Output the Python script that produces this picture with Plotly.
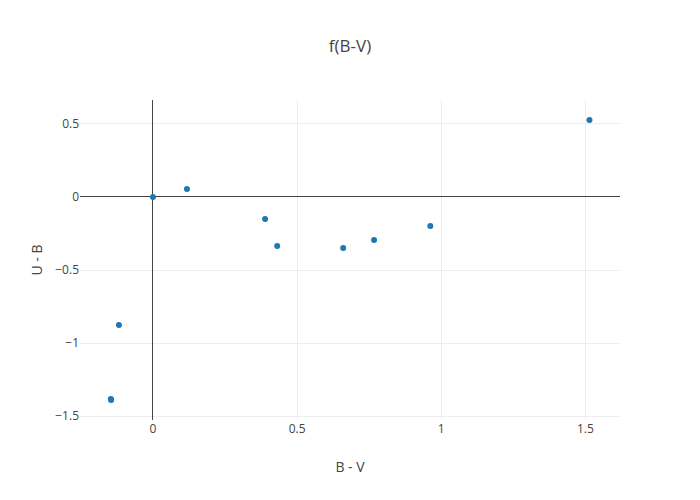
import plotly.graph_objects as go

b_v = [-0.146, -0.145, -0.118, 0.0, 0.118, 0.389, 0.431, 0.660, 0.767, 0.962, 1.514]
u_b = [-1.383, -1.39, -0.877, 0.0, 0.055, -0.151, -0.336, -0.349, -0.295, -0.199, 0.527]

fig = go.Figure(go.Scatter(
    x=b_v, y=u_b, mode="markers",
    marker=dict(color="#1f77b4", size=6),
))
fig.update_layout(
    template="none",
    autosize=True,
    title=dict(text="f(B-V)", x=0.5, xanchor="center", y=0.92,
               font=dict(family="Open Sans", size=17, color="#444")),
    font=dict(family="Open Sans", size=12, color="#444"),
    margin=dict(l=80, r=80, t=100, b=80),
    paper_bgcolor="white", plot_bgcolor="white",
    xaxis=dict(title=dict(text="B - V"), range=[-0.253, 1.62], tickvals=[0, 0.5, 1, 1.5],
               ticktext=["0", "0.5", "1", "1.5"],
               showgrid=True, gridcolor="#eee", zeroline=True, zerolinecolor="#444",
               zerolinewidth=1, showline=False, ticks=""),
    yaxis=dict(title=dict(text="U - B"), range=[-1.527, 0.664], tickvals=[-1.5, -1, -0.5, 0, 0.5],
               ticktext=["\u22121.5", "\u22121", "\u22120.5", "0", "0.5"],
               showgrid=True, gridcolor="#eee", zeroline=True, zerolinecolor="#444",
               zerolinewidth=1, showline=False, ticks=""),
    showlegend=False,
)
fig.write_html("out.html", default_width="700px", default_height="500px",
               include_plotlyjs=True, full_html=True,
               config={"responsive": False, "displayModeBar": False})
# remove body margin so the figure sits at the window origin
with open("out.html", encoding="utf-8") as f:
    html = f.read()
html = html.replace("<head>", "<head><style>html,body{margin:0;padding:0;overflow:hidden;}</style>", 1)
with open("out.html", "w", encoding="utf-8") as f:
    f.write(html)
